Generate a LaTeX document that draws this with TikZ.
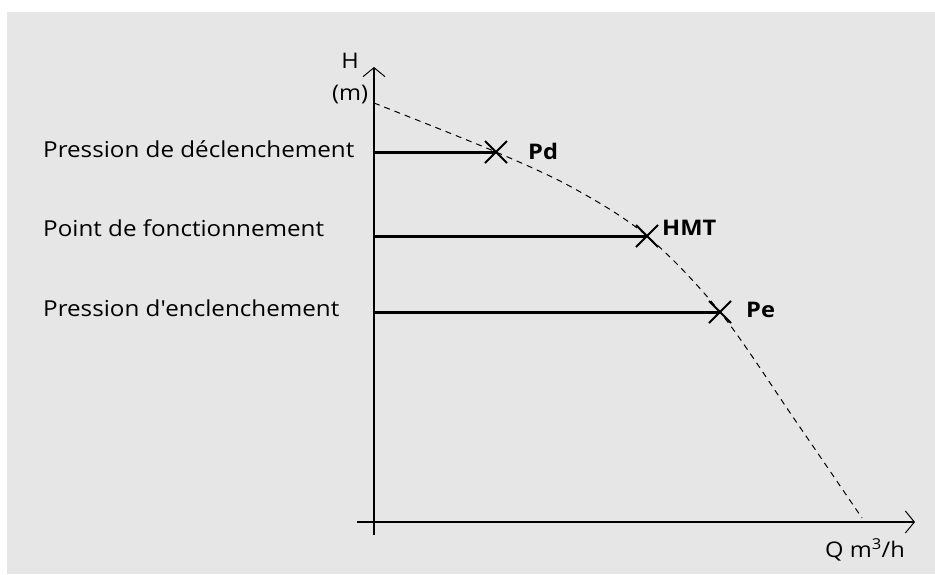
\documentclass[tikz,border=0pt]{standalone}
\usepackage{fontspec}
\setmainfont{Open Sans}[FakeStretch=1.1]
\usetikzlibrary{arrows.meta}
\definecolor{bg}{HTML}{E6E6E6}
\begin{document}
\begin{tikzpicture}[x=1pt,y=-1pt,
  lbl/.style={font=\fontsize{22}{24}\selectfont, inner sep=0pt, anchor=base west},
  ptlbl/.style={font=\fontsize{21.5}{24}\selectfont\bfseries, inner sep=0pt, anchor=base west},
  axlbl/.style={font=\fontsize{21.5}{24}\selectfont, inner sep=0pt},
  axis/.style={line width=1.3pt, -{Straight Barb[length=9pt,width=22pt,line width=1pt]}},
  level/.style={line width=3pt},
  cross/.style={line width=2pt},
  curve/.style={line width=1pt, dash pattern=on 6pt off 5pt}]
\useasboundingbox (0,0) rectangle (935,574);
\fill[white] (0,0) rectangle (935,574);
\fill[bg] (7,12) rectangle (935,574);
% axes
\coordinate (ybot) at (374,535);
\coordinate (ytop) at (374,67);
\coordinate (xleft) at (357,522);
\coordinate (xright) at (915,522);
\draw[axis] (ybot) -- (ytop);
\draw[axis] (xleft) -- (xright);
\node[axlbl, anchor=base] (H) at (350,68) {H};
\node[axlbl, anchor=base] (m) at (350,100) {(m)};
\node[axlbl, anchor=base west] (Q) at (825,557) {Q m\textsuperscript{3}/h};
% curve
\coordinate (c0) at (374,103);
\coordinate (pd) at (496,152);
\coordinate (hmt) at (647,236);
\coordinate (pe) at (720,312);
\coordinate (c1) at (862,518);
\draw[curve] plot[smooth, tension=0.55] coordinates {(c0) (pd) (575,189) (hmt) (pe) (795,420) (c1)};
% levels
\coordinate (ypd) at (374,152);
\coordinate (yhmt) at (374,236);
\coordinate (ype) at (374,312);
\draw[level] (ypd) -- (pd);
\draw[level] (yhmt) -- (hmt);
\draw[level] (ype) -- (pe);
\foreach \p in {pd,hmt,pe}{
  \draw[cross] ([shift={(-11,-11)}]\p) -- ([shift={(11,11)}]\p);
  \draw[cross] ([shift={(-11,11)}]\p) -- ([shift={(11,-11)}]\p);
}
\node[ptlbl] (lpd) at (528,159) {Pd};
\node[ptlbl] (lhmt) at (662,235) {HMT};
\node[ptlbl] (lpe) at (746,317) {Pe};
\node[lbl] (t1) at (43,157) {Pression de déclenchement};
\node[lbl] (t2) at (43,236) {Point de fonctionnement};
\node[lbl] (t3) at (43,316) {Pression d\textquotesingle enclenchement};
\end{tikzpicture}
\end{document}
